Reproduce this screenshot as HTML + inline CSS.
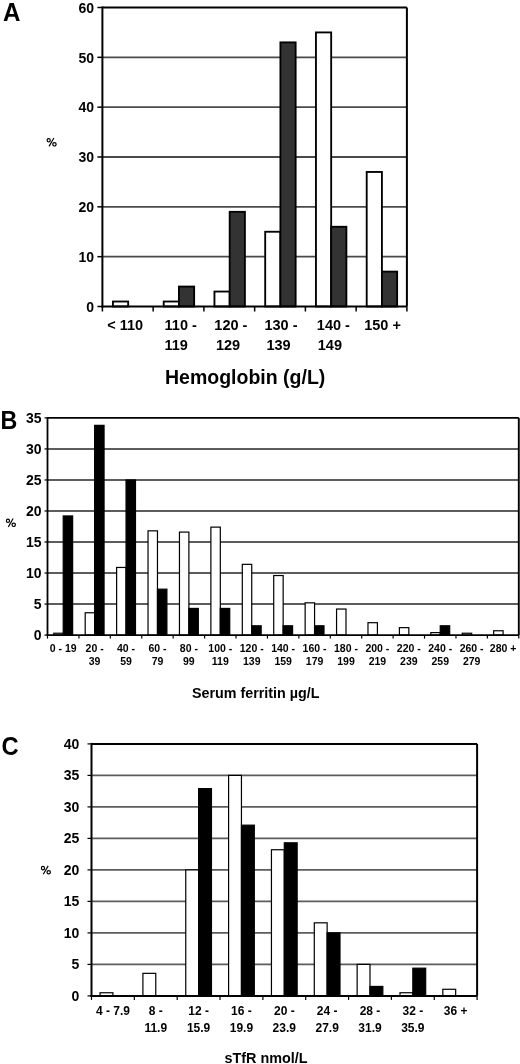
<!DOCTYPE html>
<html><head><meta charset="utf-8"><title>Figure</title>
<style>html,body{margin:0;padding:0;background:#fff;width:520px;height:1064px;overflow:hidden}</style>
</head><body>
<svg width="520" height="1064" viewBox="0 0 520 1064" style="display:block;will-change:transform;filter:blur(0.45px)">
<g font-family='"Liberation Sans", sans-serif'>
<line x1="102.40" y1="256.67" x2="406.90" y2="256.67" stroke="#4a4a4a" stroke-width="1.9"/>
<line x1="102.40" y1="206.83" x2="406.90" y2="206.83" stroke="#4a4a4a" stroke-width="1.9"/>
<line x1="102.40" y1="157.00" x2="406.90" y2="157.00" stroke="#4a4a4a" stroke-width="1.9"/>
<line x1="102.40" y1="107.17" x2="406.90" y2="107.17" stroke="#4a4a4a" stroke-width="1.9"/>
<line x1="102.40" y1="57.33" x2="406.90" y2="57.33" stroke="#4a4a4a" stroke-width="1.9"/>
<rect x="112.95" y="301.52" width="15.22" height="4.98" fill="#fff" stroke="#000" stroke-width="1.85"/>
<rect x="163.70" y="301.52" width="15.22" height="4.98" fill="#fff" stroke="#000" stroke-width="1.85"/>
<rect x="178.93" y="286.57" width="15.22" height="19.93" fill="#333" stroke="#000" stroke-width="1.85"/>
<rect x="214.45" y="291.55" width="15.22" height="14.95" fill="#fff" stroke="#000" stroke-width="1.85"/>
<rect x="229.68" y="211.82" width="15.22" height="94.68" fill="#333" stroke="#000" stroke-width="1.85"/>
<rect x="265.20" y="231.75" width="15.22" height="74.75" fill="#fff" stroke="#000" stroke-width="1.85"/>
<rect x="280.42" y="42.38" width="15.22" height="264.12" fill="#333" stroke="#000" stroke-width="1.85"/>
<rect x="315.95" y="32.42" width="15.22" height="274.08" fill="#fff" stroke="#000" stroke-width="1.85"/>
<rect x="331.17" y="226.77" width="15.22" height="79.73" fill="#333" stroke="#000" stroke-width="1.85"/>
<rect x="366.70" y="171.95" width="15.22" height="134.55" fill="#fff" stroke="#000" stroke-width="1.85"/>
<rect x="381.92" y="271.62" width="15.22" height="34.88" fill="#333" stroke="#000" stroke-width="1.85"/>
<line x1="102.40" y1="7.50" x2="406.90" y2="7.50" stroke="#000" stroke-width="2"/>
<line x1="406.90" y1="7.50" x2="406.90" y2="306.50" stroke="#000" stroke-width="2"/>
<line x1="102.40" y1="6.51" x2="102.40" y2="307.50" stroke="#000" stroke-width="2"/>
<line x1="101.40" y1="306.50" x2="406.90" y2="306.50" stroke="#000" stroke-width="2"/>
<line x1="97.40" y1="306.50" x2="102.40" y2="306.50" stroke="#000" stroke-width="1.5"/>
<text x="94.00" y="311.70" font-size="14" font-weight="bold" text-anchor="end" fill="#000">0</text>
<line x1="97.40" y1="256.67" x2="102.40" y2="256.67" stroke="#000" stroke-width="1.5"/>
<text x="94.00" y="261.87" font-size="14" font-weight="bold" text-anchor="end" fill="#000">10</text>
<line x1="97.40" y1="206.83" x2="102.40" y2="206.83" stroke="#000" stroke-width="1.5"/>
<text x="94.00" y="212.03" font-size="14" font-weight="bold" text-anchor="end" fill="#000">20</text>
<line x1="97.40" y1="157.00" x2="102.40" y2="157.00" stroke="#000" stroke-width="1.5"/>
<text x="94.00" y="162.20" font-size="14" font-weight="bold" text-anchor="end" fill="#000">30</text>
<line x1="97.40" y1="107.17" x2="102.40" y2="107.17" stroke="#000" stroke-width="1.5"/>
<text x="94.00" y="112.37" font-size="14" font-weight="bold" text-anchor="end" fill="#000">40</text>
<line x1="97.40" y1="57.33" x2="102.40" y2="57.33" stroke="#000" stroke-width="1.5"/>
<text x="94.00" y="62.53" font-size="14" font-weight="bold" text-anchor="end" fill="#000">50</text>
<line x1="97.40" y1="7.50" x2="102.40" y2="7.50" stroke="#000" stroke-width="1.5"/>
<text x="94.00" y="12.70" font-size="14" font-weight="bold" text-anchor="end" fill="#000">60</text>
<line x1="102.40" y1="306.50" x2="102.40" y2="311.50" stroke="#000" stroke-width="1.5"/>
<line x1="153.15" y1="306.50" x2="153.15" y2="311.50" stroke="#000" stroke-width="1.5"/>
<line x1="203.90" y1="306.50" x2="203.90" y2="311.50" stroke="#000" stroke-width="1.5"/>
<line x1="254.65" y1="306.50" x2="254.65" y2="311.50" stroke="#000" stroke-width="1.5"/>
<line x1="305.40" y1="306.50" x2="305.40" y2="311.50" stroke="#000" stroke-width="1.5"/>
<line x1="356.15" y1="306.50" x2="356.15" y2="311.50" stroke="#000" stroke-width="1.5"/>
<line x1="406.90" y1="306.50" x2="406.90" y2="311.50" stroke="#000" stroke-width="1.5"/>
<text x="125.10" y="329.70" font-size="14.5" font-weight="bold" text-anchor="middle" fill="#000">&lt; 110</text>
<text x="180.70" y="329.70" font-size="14.5" font-weight="bold" text-anchor="middle" fill="#000">110 -</text>
<text x="176.20" y="349.50" font-size="14.5" font-weight="bold" text-anchor="middle" fill="#000">119</text>
<text x="230.85" y="329.70" font-size="14.5" font-weight="bold" text-anchor="middle" fill="#000">120 -</text>
<text x="228.00" y="349.50" font-size="14.5" font-weight="bold" text-anchor="middle" fill="#000">129</text>
<text x="280.95" y="329.70" font-size="14.5" font-weight="bold" text-anchor="middle" fill="#000">130 -</text>
<text x="278.50" y="349.50" font-size="14.5" font-weight="bold" text-anchor="middle" fill="#000">139</text>
<text x="333.35" y="329.70" font-size="14.5" font-weight="bold" text-anchor="middle" fill="#000">140 -</text>
<text x="329.90" y="349.50" font-size="14.5" font-weight="bold" text-anchor="middle" fill="#000">149</text>
<text x="382.55" y="329.70" font-size="14.5" font-weight="bold" text-anchor="middle" fill="#000">150 +</text>
<line x1="47.50" y1="604.07" x2="518.80" y2="604.07" stroke="#5c5c5c" stroke-width="1.9"/>
<line x1="47.50" y1="573.04" x2="518.80" y2="573.04" stroke="#5c5c5c" stroke-width="1.9"/>
<line x1="47.50" y1="542.01" x2="518.80" y2="542.01" stroke="#5c5c5c" stroke-width="1.9"/>
<line x1="47.50" y1="510.99" x2="518.80" y2="510.99" stroke="#5c5c5c" stroke-width="1.9"/>
<line x1="47.50" y1="479.96" x2="518.80" y2="479.96" stroke="#5c5c5c" stroke-width="1.9"/>
<line x1="47.50" y1="448.93" x2="518.80" y2="448.93" stroke="#5c5c5c" stroke-width="1.9"/>
<rect x="53.78" y="633.24" width="9.43" height="1.86" fill="#fff" stroke="#000" stroke-width="1.2"/>
<rect x="63.21" y="515.95" width="9.43" height="119.15" fill="#000" stroke="#000" stroke-width="1.2"/>
<rect x="85.20" y="612.76" width="9.43" height="22.34" fill="#fff" stroke="#000" stroke-width="1.2"/>
<rect x="94.63" y="425.35" width="9.43" height="209.75" fill="#000" stroke="#000" stroke-width="1.2"/>
<rect x="116.62" y="567.46" width="9.43" height="67.64" fill="#fff" stroke="#000" stroke-width="1.2"/>
<rect x="126.05" y="479.96" width="9.43" height="155.14" fill="#000" stroke="#000" stroke-width="1.2"/>
<rect x="148.04" y="530.84" width="9.43" height="104.26" fill="#fff" stroke="#000" stroke-width="1.2"/>
<rect x="157.47" y="589.18" width="9.43" height="45.92" fill="#000" stroke="#000" stroke-width="1.2"/>
<rect x="179.46" y="532.09" width="9.43" height="103.01" fill="#fff" stroke="#000" stroke-width="1.2"/>
<rect x="188.89" y="608.42" width="9.43" height="26.68" fill="#000" stroke="#000" stroke-width="1.2"/>
<rect x="210.88" y="527.12" width="9.43" height="107.98" fill="#fff" stroke="#000" stroke-width="1.2"/>
<rect x="220.31" y="608.42" width="9.43" height="26.68" fill="#000" stroke="#000" stroke-width="1.2"/>
<rect x="242.30" y="564.35" width="9.43" height="70.75" fill="#fff" stroke="#000" stroke-width="1.2"/>
<rect x="251.73" y="625.79" width="9.43" height="9.31" fill="#000" stroke="#000" stroke-width="1.2"/>
<rect x="273.72" y="575.53" width="9.43" height="59.57" fill="#fff" stroke="#000" stroke-width="1.2"/>
<rect x="283.15" y="625.79" width="9.43" height="9.31" fill="#000" stroke="#000" stroke-width="1.2"/>
<rect x="305.14" y="602.83" width="9.43" height="32.27" fill="#fff" stroke="#000" stroke-width="1.2"/>
<rect x="314.57" y="625.79" width="9.43" height="9.31" fill="#000" stroke="#000" stroke-width="1.2"/>
<rect x="336.56" y="609.04" width="9.43" height="26.06" fill="#fff" stroke="#000" stroke-width="1.2"/>
<rect x="367.98" y="622.69" width="9.43" height="12.41" fill="#fff" stroke="#000" stroke-width="1.2"/>
<rect x="399.40" y="627.65" width="9.43" height="7.45" fill="#fff" stroke="#000" stroke-width="1.2"/>
<rect x="430.82" y="632.62" width="9.43" height="2.48" fill="#fff" stroke="#000" stroke-width="1.2"/>
<rect x="440.25" y="625.79" width="9.43" height="9.31" fill="#000" stroke="#000" stroke-width="1.2"/>
<rect x="462.24" y="633.24" width="9.43" height="1.86" fill="#fff" stroke="#000" stroke-width="1.2"/>
<rect x="493.66" y="630.76" width="9.43" height="4.34" fill="#fff" stroke="#000" stroke-width="1.2"/>
<line x1="47.50" y1="417.90" x2="518.80" y2="417.90" stroke="#000" stroke-width="1.9"/>
<line x1="518.80" y1="417.90" x2="518.80" y2="635.10" stroke="#000" stroke-width="1.9"/>
<line x1="47.50" y1="417.01" x2="47.50" y2="636.00" stroke="#000" stroke-width="1.8"/>
<line x1="46.60" y1="635.10" x2="518.80" y2="635.10" stroke="#000" stroke-width="1.8"/>
<line x1="44.50" y1="635.10" x2="47.50" y2="635.10" stroke="#000" stroke-width="1.2"/>
<text x="41.50" y="640.10" font-size="14" font-weight="bold" text-anchor="end" fill="#000">0</text>
<line x1="44.50" y1="604.07" x2="47.50" y2="604.07" stroke="#000" stroke-width="1.2"/>
<text x="41.50" y="609.07" font-size="14" font-weight="bold" text-anchor="end" fill="#000">5</text>
<line x1="44.50" y1="573.04" x2="47.50" y2="573.04" stroke="#000" stroke-width="1.2"/>
<text x="41.50" y="578.04" font-size="14" font-weight="bold" text-anchor="end" fill="#000">10</text>
<line x1="44.50" y1="542.01" x2="47.50" y2="542.01" stroke="#000" stroke-width="1.2"/>
<text x="41.50" y="547.01" font-size="14" font-weight="bold" text-anchor="end" fill="#000">15</text>
<line x1="44.50" y1="510.99" x2="47.50" y2="510.99" stroke="#000" stroke-width="1.2"/>
<text x="41.50" y="515.99" font-size="14" font-weight="bold" text-anchor="end" fill="#000">20</text>
<line x1="44.50" y1="479.96" x2="47.50" y2="479.96" stroke="#000" stroke-width="1.2"/>
<text x="41.50" y="484.96" font-size="14" font-weight="bold" text-anchor="end" fill="#000">25</text>
<line x1="44.50" y1="448.93" x2="47.50" y2="448.93" stroke="#000" stroke-width="1.2"/>
<text x="41.50" y="453.93" font-size="14" font-weight="bold" text-anchor="end" fill="#000">30</text>
<line x1="44.50" y1="417.90" x2="47.50" y2="417.90" stroke="#000" stroke-width="1.2"/>
<text x="41.50" y="422.90" font-size="14" font-weight="bold" text-anchor="end" fill="#000">35</text>
<line x1="47.50" y1="635.10" x2="47.50" y2="638.60" stroke="#000" stroke-width="1.2"/>
<line x1="78.92" y1="635.10" x2="78.92" y2="638.60" stroke="#000" stroke-width="1.2"/>
<line x1="110.34" y1="635.10" x2="110.34" y2="638.60" stroke="#000" stroke-width="1.2"/>
<line x1="141.76" y1="635.10" x2="141.76" y2="638.60" stroke="#000" stroke-width="1.2"/>
<line x1="173.18" y1="635.10" x2="173.18" y2="638.60" stroke="#000" stroke-width="1.2"/>
<line x1="204.60" y1="635.10" x2="204.60" y2="638.60" stroke="#000" stroke-width="1.2"/>
<line x1="236.02" y1="635.10" x2="236.02" y2="638.60" stroke="#000" stroke-width="1.2"/>
<line x1="267.44" y1="635.10" x2="267.44" y2="638.60" stroke="#000" stroke-width="1.2"/>
<line x1="298.86" y1="635.10" x2="298.86" y2="638.60" stroke="#000" stroke-width="1.2"/>
<line x1="330.28" y1="635.10" x2="330.28" y2="638.60" stroke="#000" stroke-width="1.2"/>
<line x1="361.70" y1="635.10" x2="361.70" y2="638.60" stroke="#000" stroke-width="1.2"/>
<line x1="393.12" y1="635.10" x2="393.12" y2="638.60" stroke="#000" stroke-width="1.2"/>
<line x1="424.54" y1="635.10" x2="424.54" y2="638.60" stroke="#000" stroke-width="1.2"/>
<line x1="455.96" y1="635.10" x2="455.96" y2="638.60" stroke="#000" stroke-width="1.2"/>
<line x1="487.38" y1="635.10" x2="487.38" y2="638.60" stroke="#000" stroke-width="1.2"/>
<line x1="518.80" y1="635.10" x2="518.80" y2="638.60" stroke="#000" stroke-width="1.2"/>
<text x="63.21" y="651.50" font-size="10.5" font-weight="bold" text-anchor="middle" fill="#000">0 - 19</text>
<text x="94.63" y="651.50" font-size="10.5" font-weight="bold" text-anchor="middle" fill="#000">20 -</text>
<text x="94.63" y="665.40" font-size="10.5" font-weight="bold" text-anchor="middle" fill="#000">39</text>
<text x="126.05" y="651.50" font-size="10.5" font-weight="bold" text-anchor="middle" fill="#000">40 -</text>
<text x="126.05" y="665.40" font-size="10.5" font-weight="bold" text-anchor="middle" fill="#000">59</text>
<text x="157.47" y="651.50" font-size="10.5" font-weight="bold" text-anchor="middle" fill="#000">60 -</text>
<text x="157.47" y="665.40" font-size="10.5" font-weight="bold" text-anchor="middle" fill="#000">79</text>
<text x="188.89" y="651.50" font-size="10.5" font-weight="bold" text-anchor="middle" fill="#000">80 -</text>
<text x="188.89" y="665.40" font-size="10.5" font-weight="bold" text-anchor="middle" fill="#000">99</text>
<text x="220.31" y="651.50" font-size="10.5" font-weight="bold" text-anchor="middle" fill="#000">100 -</text>
<text x="220.31" y="665.40" font-size="10.5" font-weight="bold" text-anchor="middle" fill="#000">119</text>
<text x="251.73" y="651.50" font-size="10.5" font-weight="bold" text-anchor="middle" fill="#000">120 -</text>
<text x="251.73" y="665.40" font-size="10.5" font-weight="bold" text-anchor="middle" fill="#000">139</text>
<text x="283.15" y="651.50" font-size="10.5" font-weight="bold" text-anchor="middle" fill="#000">140 -</text>
<text x="283.15" y="665.40" font-size="10.5" font-weight="bold" text-anchor="middle" fill="#000">159</text>
<text x="314.57" y="651.50" font-size="10.5" font-weight="bold" text-anchor="middle" fill="#000">160 -</text>
<text x="314.57" y="665.40" font-size="10.5" font-weight="bold" text-anchor="middle" fill="#000">179</text>
<text x="345.99" y="651.50" font-size="10.5" font-weight="bold" text-anchor="middle" fill="#000">180 -</text>
<text x="345.99" y="665.40" font-size="10.5" font-weight="bold" text-anchor="middle" fill="#000">199</text>
<text x="377.41" y="651.50" font-size="10.5" font-weight="bold" text-anchor="middle" fill="#000">200 -</text>
<text x="377.41" y="665.40" font-size="10.5" font-weight="bold" text-anchor="middle" fill="#000">219</text>
<text x="408.83" y="651.50" font-size="10.5" font-weight="bold" text-anchor="middle" fill="#000">220 -</text>
<text x="408.83" y="665.40" font-size="10.5" font-weight="bold" text-anchor="middle" fill="#000">239</text>
<text x="440.25" y="651.50" font-size="10.5" font-weight="bold" text-anchor="middle" fill="#000">240 -</text>
<text x="440.25" y="665.40" font-size="10.5" font-weight="bold" text-anchor="middle" fill="#000">259</text>
<text x="471.67" y="651.50" font-size="10.5" font-weight="bold" text-anchor="middle" fill="#000">260 -</text>
<text x="471.67" y="665.40" font-size="10.5" font-weight="bold" text-anchor="middle" fill="#000">279</text>
<text x="503.09" y="651.50" font-size="10.5" font-weight="bold" text-anchor="middle" fill="#000">280 +</text>
<line x1="91.50" y1="964.40" x2="477.10" y2="964.40" stroke="#5c5c5c" stroke-width="1.9"/>
<line x1="91.50" y1="932.90" x2="477.10" y2="932.90" stroke="#5c5c5c" stroke-width="1.9"/>
<line x1="91.50" y1="901.40" x2="477.10" y2="901.40" stroke="#5c5c5c" stroke-width="1.9"/>
<line x1="91.50" y1="869.90" x2="477.10" y2="869.90" stroke="#5c5c5c" stroke-width="1.9"/>
<line x1="91.50" y1="838.40" x2="477.10" y2="838.40" stroke="#5c5c5c" stroke-width="1.9"/>
<line x1="91.50" y1="806.90" x2="477.10" y2="806.90" stroke="#5c5c5c" stroke-width="1.9"/>
<line x1="91.50" y1="775.40" x2="477.10" y2="775.40" stroke="#5c5c5c" stroke-width="1.9"/>
<rect x="100.07" y="992.75" width="12.85" height="3.15" fill="#fff" stroke="#000" stroke-width="1.2"/>
<rect x="142.91" y="973.35" width="12.85" height="22.55" fill="#fff" stroke="#000" stroke-width="1.2"/>
<rect x="185.76" y="869.90" width="12.85" height="126.00" fill="#fff" stroke="#000" stroke-width="1.2"/>
<rect x="198.61" y="788.63" width="12.85" height="207.27" fill="#000" stroke="#000" stroke-width="1.2"/>
<rect x="228.60" y="775.40" width="12.85" height="220.50" fill="#fff" stroke="#000" stroke-width="1.2"/>
<rect x="241.46" y="825.17" width="12.85" height="170.73" fill="#000" stroke="#000" stroke-width="1.2"/>
<rect x="271.45" y="849.74" width="12.85" height="146.16" fill="#fff" stroke="#000" stroke-width="1.2"/>
<rect x="284.30" y="842.81" width="12.85" height="153.09" fill="#000" stroke="#000" stroke-width="1.2"/>
<rect x="314.29" y="922.82" width="12.85" height="73.08" fill="#fff" stroke="#000" stroke-width="1.2"/>
<rect x="327.14" y="932.90" width="12.85" height="63.00" fill="#000" stroke="#000" stroke-width="1.2"/>
<rect x="357.14" y="964.40" width="12.85" height="31.50" fill="#fff" stroke="#000" stroke-width="1.2"/>
<rect x="369.99" y="986.45" width="12.85" height="9.45" fill="#000" stroke="#000" stroke-width="1.2"/>
<rect x="399.98" y="992.75" width="12.85" height="3.15" fill="#fff" stroke="#000" stroke-width="1.2"/>
<rect x="412.83" y="968.18" width="12.85" height="27.72" fill="#000" stroke="#000" stroke-width="1.2"/>
<rect x="442.82" y="989.28" width="12.85" height="6.62" fill="#fff" stroke="#000" stroke-width="1.2"/>
<line x1="91.50" y1="743.90" x2="477.10" y2="743.90" stroke="#000" stroke-width="2"/>
<line x1="477.10" y1="743.90" x2="477.10" y2="995.90" stroke="#000" stroke-width="2"/>
<line x1="91.50" y1="742.91" x2="91.50" y2="996.90" stroke="#000" stroke-width="2"/>
<line x1="90.50" y1="995.90" x2="477.10" y2="995.90" stroke="#000" stroke-width="2"/>
<line x1="87.50" y1="995.90" x2="91.50" y2="995.90" stroke="#000" stroke-width="1.2"/>
<text x="79.30" y="1000.90" font-size="14" font-weight="bold" text-anchor="end" fill="#000">0</text>
<line x1="87.50" y1="964.40" x2="91.50" y2="964.40" stroke="#000" stroke-width="1.2"/>
<text x="79.30" y="969.40" font-size="14" font-weight="bold" text-anchor="end" fill="#000">5</text>
<line x1="87.50" y1="932.90" x2="91.50" y2="932.90" stroke="#000" stroke-width="1.2"/>
<text x="79.30" y="937.90" font-size="14" font-weight="bold" text-anchor="end" fill="#000">10</text>
<line x1="87.50" y1="901.40" x2="91.50" y2="901.40" stroke="#000" stroke-width="1.2"/>
<text x="79.30" y="906.40" font-size="14" font-weight="bold" text-anchor="end" fill="#000">15</text>
<line x1="87.50" y1="869.90" x2="91.50" y2="869.90" stroke="#000" stroke-width="1.2"/>
<text x="79.30" y="874.90" font-size="14" font-weight="bold" text-anchor="end" fill="#000">20</text>
<line x1="87.50" y1="838.40" x2="91.50" y2="838.40" stroke="#000" stroke-width="1.2"/>
<text x="79.30" y="843.40" font-size="14" font-weight="bold" text-anchor="end" fill="#000">25</text>
<line x1="87.50" y1="806.90" x2="91.50" y2="806.90" stroke="#000" stroke-width="1.2"/>
<text x="79.30" y="811.90" font-size="14" font-weight="bold" text-anchor="end" fill="#000">30</text>
<line x1="87.50" y1="775.40" x2="91.50" y2="775.40" stroke="#000" stroke-width="1.2"/>
<text x="79.30" y="780.40" font-size="14" font-weight="bold" text-anchor="end" fill="#000">35</text>
<line x1="87.50" y1="743.90" x2="91.50" y2="743.90" stroke="#000" stroke-width="1.2"/>
<text x="79.30" y="748.90" font-size="14" font-weight="bold" text-anchor="end" fill="#000">40</text>
<line x1="91.50" y1="995.90" x2="91.50" y2="999.90" stroke="#000" stroke-width="1.2"/>
<line x1="134.34" y1="995.90" x2="134.34" y2="999.90" stroke="#000" stroke-width="1.2"/>
<line x1="177.19" y1="995.90" x2="177.19" y2="999.90" stroke="#000" stroke-width="1.2"/>
<line x1="220.03" y1="995.90" x2="220.03" y2="999.90" stroke="#000" stroke-width="1.2"/>
<line x1="262.88" y1="995.90" x2="262.88" y2="999.90" stroke="#000" stroke-width="1.2"/>
<line x1="305.72" y1="995.90" x2="305.72" y2="999.90" stroke="#000" stroke-width="1.2"/>
<line x1="348.57" y1="995.90" x2="348.57" y2="999.90" stroke="#000" stroke-width="1.2"/>
<line x1="391.41" y1="995.90" x2="391.41" y2="999.90" stroke="#000" stroke-width="1.2"/>
<line x1="434.26" y1="995.90" x2="434.26" y2="999.90" stroke="#000" stroke-width="1.2"/>
<line x1="477.10" y1="995.90" x2="477.10" y2="999.90" stroke="#000" stroke-width="1.2"/>
<text x="112.92" y="1015.40" font-size="12" font-weight="bold" text-anchor="middle" fill="#000">4 - 7.9</text>
<text x="155.77" y="1015.40" font-size="12" font-weight="bold" text-anchor="middle" fill="#000">8 -</text>
<text x="155.77" y="1031.90" font-size="12" font-weight="bold" text-anchor="middle" fill="#000">11.9</text>
<text x="198.61" y="1015.40" font-size="12" font-weight="bold" text-anchor="middle" fill="#000">12 -</text>
<text x="198.61" y="1031.90" font-size="12" font-weight="bold" text-anchor="middle" fill="#000">15.9</text>
<text x="241.46" y="1015.40" font-size="12" font-weight="bold" text-anchor="middle" fill="#000">16 -</text>
<text x="241.46" y="1031.90" font-size="12" font-weight="bold" text-anchor="middle" fill="#000">19.9</text>
<text x="284.30" y="1015.40" font-size="12" font-weight="bold" text-anchor="middle" fill="#000">20 -</text>
<text x="284.30" y="1031.90" font-size="12" font-weight="bold" text-anchor="middle" fill="#000">23.9</text>
<text x="327.14" y="1015.40" font-size="12" font-weight="bold" text-anchor="middle" fill="#000">24 -</text>
<text x="327.14" y="1031.90" font-size="12" font-weight="bold" text-anchor="middle" fill="#000">27.9</text>
<text x="369.99" y="1015.40" font-size="12" font-weight="bold" text-anchor="middle" fill="#000">28 -</text>
<text x="369.99" y="1031.90" font-size="12" font-weight="bold" text-anchor="middle" fill="#000">31.9</text>
<text x="412.83" y="1015.40" font-size="12" font-weight="bold" text-anchor="middle" fill="#000">32 -</text>
<text x="412.83" y="1031.90" font-size="12" font-weight="bold" text-anchor="middle" fill="#000">35.9</text>
<text x="455.68" y="1015.40" font-size="12" font-weight="bold" text-anchor="middle" fill="#000">36 +</text>
<text transform="translate(3.10,20.70) scale(0.93,1)" font-size="26" font-weight="bold" text-anchor="start" fill="#000">A</text>
<text transform="translate(0.60,428.80) scale(0.89,1)" font-size="26.2" font-weight="bold" text-anchor="start" fill="#000">B</text>
<text transform="translate(1.60,755.20) scale(0.95,1)" font-size="25" font-weight="bold" text-anchor="start" fill="#000">C</text>
<g transform="translate(48.7,140.3)" fill="none" stroke="#000"><ellipse cx="0" cy="0" rx="1.55" ry="1.7" stroke-width="1.2"/><ellipse cx="5.74" cy="4.05" rx="1.7" ry="1.65" stroke-width="1.2"/><line x1="5.2" y1="-2.3" x2="0.35" y2="6.1" stroke-width="1.15"/></g>
<g transform="translate(7.96,520.8)" fill="none" stroke="#000"><ellipse cx="0" cy="0" rx="1.55" ry="1.7" stroke-width="1.2"/><ellipse cx="5.74" cy="4.05" rx="1.7" ry="1.65" stroke-width="1.2"/><line x1="5.2" y1="-2.3" x2="0.35" y2="6.1" stroke-width="1.15"/></g>
<g transform="translate(42.96,868.15)" fill="none" stroke="#000"><ellipse cx="0" cy="0" rx="1.55" ry="1.7" stroke-width="1.2"/><ellipse cx="5.74" cy="4.05" rx="1.7" ry="1.65" stroke-width="1.2"/><line x1="5.2" y1="-2.3" x2="0.35" y2="6.1" stroke-width="1.15"/></g>
<text x="165.00" y="383.90" font-size="19.5" font-weight="bold" text-anchor="start" fill="#000">Hemoglobin (g/L)</text>
<text x="192.00" y="697.70" font-size="14.3" font-weight="bold" text-anchor="start" fill="#000">Serum ferritin &#181;g/L</text>
<text x="224.50" y="1063.20" font-size="14.4" font-weight="bold" text-anchor="start" fill="#000">sTfR nmol/L</text>
</g></svg>
</body></html>
